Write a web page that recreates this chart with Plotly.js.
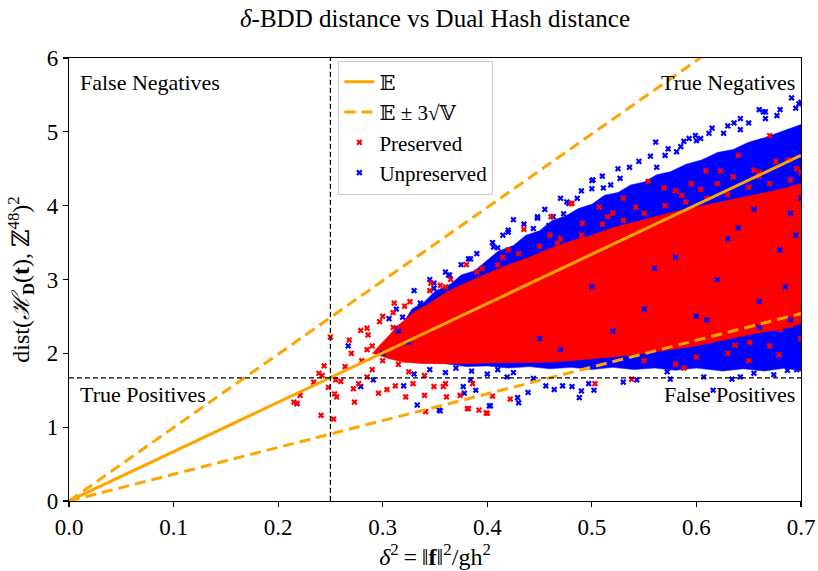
<!DOCTYPE html>
<html>
<head>
<meta charset="utf-8">
<script src="https://cdn.plot.ly/plotly-3.0.1.min.js"></script>
<style>html,body{margin:0;padding:0;background:#fff;}#chart{width:818px;height:571px;}</style>
</head>
<body>
<div id="chart"></div>
<script>
// ---- Reference lines ----
const lineX = [0.0, 0.7];
const meanY = [0.0, 4.68];
const upperY = [0.0, 6.96];
const lowerY = [0.0, 2.54];
const thresholdX = 0.25;
const thresholdY = 1.668;

// ---- Dense core outlines of the two point clouds ----
const unpreservedCoreX = [0.305,0.312,0.320,0.328,0.340,0.350,0.365,0.375,0.388,0.400,0.410,0.425,0.437,0.450,0.462,0.475,0.487,0.500,0.512,0.525,0.537,0.550,0.562,0.575,0.590,0.605,0.620,0.635,0.650,0.665,0.680,0.700,
  0.700,0.685,0.665,0.645,0.625,0.600,0.580,0.560,0.540,0.520,0.500,0.480,0.460,0.440,0.420,0.400,0.380,0.360,0.340,0.320];
const unpreservedCoreY = [2.10,2.36,2.42,2.60,2.70,2.84,2.94,3.06,3.12,3.26,3.38,3.46,3.60,3.66,3.80,3.86,3.96,4.02,4.14,4.18,4.28,4.32,4.42,4.46,4.56,4.62,4.72,4.76,4.86,4.92,5.00,5.10,
  1.76,1.80,1.76,1.79,1.76,1.80,1.77,1.80,1.78,1.81,1.78,1.81,1.79,1.82,1.80,1.83,1.82,1.86,1.88,1.95];
const preservedCoreX = [0.290,0.300,0.315,0.330,0.345,0.360,0.380,0.400,0.420,0.440,0.460,0.480,0.500,0.520,0.540,0.560,0.580,0.600,0.620,0.640,0.660,0.680,0.700,
  0.700,0.680,0.660,0.640,0.620,0.600,0.580,0.560,0.540,0.520,0.500,0.480,0.460,0.440,0.420,0.400,0.380,0.360,0.340,0.320,0.305];
const preservedCoreY = [2.00,2.15,2.38,2.56,2.68,2.82,2.96,3.08,3.20,3.30,3.42,3.52,3.60,3.70,3.78,3.85,3.92,3.98,4.04,4.10,4.16,4.22,4.30,
  2.40,2.32,2.28,2.22,2.16,2.10,2.06,2.02,1.98,1.95,1.92,1.90,1.88,1.88,1.87,1.87,1.86,1.86,1.86,1.88,1.93];

// ---- Individual points visible around the clouds ----
const preservedX = [0.250,0.244,0.239,0.242,0.234,0.248,0.221,0.215,0.218,0.241,0.253,0.256,0.254,0.264,0.268,0.270,0.279,0.285,0.286,0.297,0.311,0.326,0.321,
  0.273,0.272,0.277,0.285,0.296,0.304,0.312,0.322,0.329,0.340,0.349,0.358,0.361,0.374,0.381,0.392,0.399,0.405,0.386,0.355,0.346,0.255,0.260,
  0.341,0.382,0.400,0.422,0.360,0.503,0.538,0.588,0.679,0.680,0.637,0.651,0.690,
  0.435,0.461,0.480,0.554,0.640,0.670,0.676,0.623,0.609,0.586,0.569,0.604,0.635,0.655,0.696,0.542,0.515,0.507,0.491,0.467,0.481,0.530,0.595,0.660,0.688,
  0.290,0.300,0.305,0.310,0.315,0.320,0.325,0.330,0.335,0.340,0.280,0.285,0.290,0.300,0.310,0.345,0.365,0.395,0.415,
  0.360,0.390,0.410,0.430,0.450,0.470,0.490,0.510,0.530,0.550,0.570,0.590,0.610,0.630,0.650,0.670,0.690,0.700,0.660,0.620,0.580,0.520,0.460,0.420,0.380,
  0.550,0.600,0.630,0.670,0.700,0.580,0.650];
const preservedY = [2.22,1.83,1.73,1.70,1.61,1.54,1.43,1.34,1.32,1.16,1.11,1.41,1.45,1.82,2.18,2.00,2.31,2.34,2.25,2.43,2.68,2.70,2.64,
  1.34,1.52,1.59,1.68,1.46,1.51,1.56,1.41,1.59,1.43,1.55,1.55,1.41,1.43,1.25,1.23,1.19,1.42,1.59,2.92,2.95,1.64,1.62,
  1.21,1.25,1.19,1.38,1.59,1.59,1.65,1.80,1.98,2.32,2.11,2.15,2.38,
  3.68,3.85,4.03,4.33,4.68,4.95,4.60,4.47,4.47,4.14,4.24,4.22,4.39,4.48,4.50,3.98,3.85,3.98,3.76,3.49,4.03,4.10,4.30,4.40,4.62,
  2.10,1.90,2.15,2.35,1.85,2.20,1.75,2.45,2.05,1.70,1.90,2.05,1.78,2.50,2.55,2.85,3.00,3.15,3.30,
  2.90,3.10,3.20,3.35,3.45,3.55,3.60,3.75,3.80,3.90,4.00,4.05,4.10,4.15,4.25,4.30,4.35,4.45,4.45,4.30,4.20,3.90,3.60,3.40,3.20,
  1.90,1.95,2.00,2.10,2.20,1.85,1.90];

const unpreservedX = [0.267,0.313,0.319,0.306,0.336,0.279,0.291,0.320,0.333,0.355,0.389,0.402,0.378,0.363,0.349,0.382,0.410,0.420,0.430,0.218,
  0.354,0.403,0.429,0.439,0.456,0.464,0.472,0.481,0.488,0.490,0.497,0.502,0.530,0.543,0.572,0.575,0.607,0.616,0.634,0.642,0.655,0.674,0.687,0.696,0.444,0.419,0.384,0.377,
  0.691,0.698,0.666,0.666,0.677,0.642,0.636,0.642,0.626,0.612,0.599,0.593,0.588,0.604,0.561,0.573,0.581,0.556,0.536,0.562,0.527,0.518,0.501,0.500,0.511,0.486,0.476,0.473,0.448,0.444,0.459,
  0.500,0.448,0.425,0.420,0.406,0.384,0.364,0.349,0.478,0.463,0.664,
  0.550,0.620,0.660,0.680,0.450,0.500,0.580,0.640,0.690,0.700,0.600,0.520,0.470,0.630,0.675,0.695,0.560,0.610,0.655,0.685,
  0.330,0.345,0.360,0.375,0.390,0.405,0.415,0.435,0.455,0.470,0.490,0.510,0.525,0.545,0.570,0.585,0.600,0.615,0.630,0.650,0.660,0.680,0.695,0.700,
  0.330,0.345,0.360,0.370,0.385,0.400,0.410,0.425,0.300,0.315,0.325,
  0.600,0.620,0.650,0.680,0.700,0.570,0.540,0.660,0.690];
const unpreservedY = [2.10,2.60,2.49,2.47,2.68,1.55,1.64,1.56,1.30,1.22,1.50,1.29,1.46,3.06,2.95,3.28,3.43,3.64,1.33,1.32,
  1.23,1.29,1.40,1.47,1.56,1.51,1.56,1.55,1.40,1.49,1.59,1.50,1.61,1.64,1.75,1.65,1.68,1.50,1.65,1.68,1.73,1.71,1.77,1.78,1.66,1.68,1.64,1.55,
  5.46,5.38,5.27,5.18,5.22,5.18,5.12,5.03,4.98,4.98,4.95,4.91,4.87,4.91,4.86,4.77,4.73,4.67,4.52,4.52,4.37,4.28,4.35,4.23,4.24,4.10,4.05,3.89,3.85,3.69,3.73,
  4.34,3.83,3.81,3.67,3.44,3.28,3.06,2.88,4.03,3.85,5.27,
  2.60,3.00,2.70,3.40,2.20,2.90,3.30,3.70,3.90,4.10,2.50,2.30,2.05,3.55,4.30,3.60,3.15,2.45,3.95,2.90,
  2.85,3.00,3.10,3.20,3.35,3.50,3.60,3.75,3.95,4.10,4.20,4.40,4.50,4.60,4.68,4.80,4.88,5.05,5.08,5.12,5.30,5.30,5.32,5.40,
  1.72,1.78,1.74,1.80,1.76,1.72,1.78,1.74,2.00,2.30,2.15,
  2.05,2.10,2.20,2.28,2.35,2.00,1.95,2.35,2.45];

const serif = '"Liberation Serif", "DejaVu Serif", serif';
const orange = '#FFA500';

const traces = [
  {x: unpreservedCoreX, y: unpreservedCoreY, mode: 'lines', fill: 'toself', fillcolor: '#0000ff',
   line: {width: 0.5, color: '#0000ff'}, showlegend: false, hoverinfo: 'skip'},
  {x: preservedCoreX, y: preservedCoreY, mode: 'lines', fill: 'toself', fillcolor: '#ff0000',
   line: {width: 0.5, color: '#ff0000'}, showlegend: false, hoverinfo: 'skip'},
  {x: unpreservedX, y: unpreservedY, mode: 'markers', name: 'Unpreserved', legendrank: 4,
   marker: {symbol: 'x', size: 5.5, color: '#0000ff', line: {width: 0}}},
  {x: preservedX, y: preservedY, mode: 'markers', name: 'Preserved', legendrank: 3,
   marker: {symbol: 'x', size: 5.5, color: '#ff0000', line: {width: 0}}},
  {x: lineX, y: meanY, mode: 'lines', name: '𝔼', legendrank: 1,
   line: {color: orange, width: 3}},
  {x: lineX, y: upperY, mode: 'lines', name: '𝔼 ± 3√𝕍', legendrank: 2, legendgroup: 'pm',
   line: {color: orange, width: 3, dash: '11px,6px'}},
  {x: lineX, y: lowerY, mode: 'lines', showlegend: false, legendgroup: 'pm',
   line: {color: orange, width: 3, dash: '11px,6px'}}
];

const annFont = {family: serif, size: 22, color: '#000'};
const layout = {
  width: 818, height: 571,
  margin: {l: 68.5, r: 17, t: 57.5, b: 70},
  paper_bgcolor: '#fff', plot_bgcolor: '#fff',
  font: {family: serif, size: 22, color: '#000'},
  title: {text: '<i>δ</i>-BDD distance vs Dual Hash distance', xref: 'paper', x: 0.5, xanchor: 'center', y: 0.968, yanchor: 'middle',
          font: {family: serif, size: 25, color: '#000'}},
  xaxis: {range: [0, 0.7], dtick: 0.1, tickformat: '.1f', showgrid: false, zeroline: false,
          showline: true, mirror: true, linecolor: '#000', linewidth: 1.2,
          ticks: 'outside', ticklen: 5, tickcolor: '#000', tickwidth: 1.2,
          tickfont: {family: serif, size: 23},
          title: {text: '<i>δ</i><sup>2</sup>\u2009=\u2009‖<b>f</b>‖<sup>2</sup>/gh<sup>2</sup>', standoff: 8, font: {family: serif, size: 24}}},
  yaxis: {range: [0, 6], dtick: 1, showgrid: false, zeroline: false,
          showline: true, mirror: true, linecolor: '#000', linewidth: 1.2,
          ticks: 'outside', ticklen: 5, tickcolor: '#000', tickwidth: 1.2,
          tickfont: {family: serif, size: 23},
          title: {text: 'dist(<i>ℋ</i><sub><b>D</b></sub>(<b>t</b>), ℤ<sup>48</sup>)<sup>2</sup>', standoff: 10, font: {family: serif, size: 24}}},
  legend: {x: 0.368, y: 0.994, xanchor: 'left', yanchor: 'top', bgcolor: 'rgba(255,255,255,0.85)',
           bordercolor: '#cccccc', borderwidth: 1, font: {family: serif, size: 21}, tracegroupgap: 0},
  shapes: [
    {type: 'line', xref: 'x', yref: 'paper', x0: thresholdX, x1: thresholdX, y0: 0, y1: 1,
     line: {color: '#000', width: 1.3, dash: '5px,3px'}},
    {type: 'line', xref: 'paper', yref: 'y', x0: 0, x1: 1, y0: thresholdY, y1: thresholdY,
     line: {color: '#000', width: 1.3, dash: '5px,3px'}}
  ],
  annotations: [
    {text: 'False Negatives', xref: 'paper', yref: 'paper', x: 0.012, y: 0.978, xanchor: 'left', yanchor: 'top', showarrow: false, font: annFont},
    {text: 'True Negatives', xref: 'paper', yref: 'paper', x: 0.994, y: 0.978, xanchor: 'right', yanchor: 'top', showarrow: false, font: annFont},
    {text: 'True Positives', xref: 'paper', yref: 'y', x: 0.012, y: thresholdY, xanchor: 'left', yanchor: 'top', yshift: -2, showarrow: false, font: annFont},
    {text: 'False Positives', xref: 'paper', yref: 'y', x: 0.994, y: thresholdY, xanchor: 'right', yanchor: 'top', yshift: -2, showarrow: false, font: annFont}
  ]
};

Plotly.newPlot('chart', traces, layout, {displayModeBar: false, staticPlot: true});
</script>
</body>
</html>
